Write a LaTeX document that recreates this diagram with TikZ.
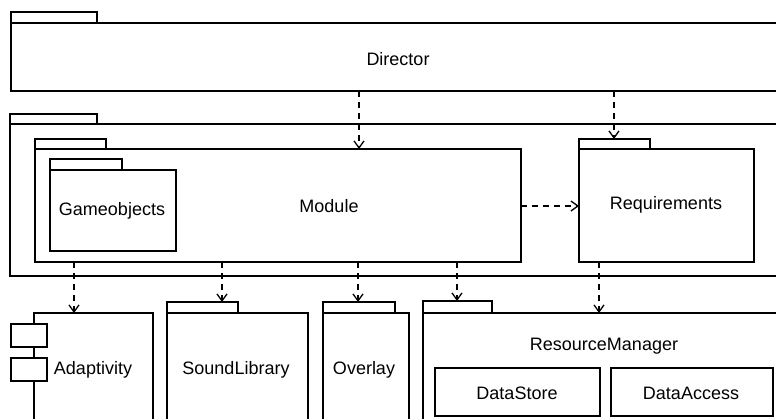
\documentclass[tikz,border=0pt]{standalone}
\usepackage{fontspec}
\setmainfont{Liberation Sans}
\usetikzlibrary{arrows.meta}

\begin{document}
\begin{tikzpicture}[x=1pt,y=-1pt,
  box/.style={draw, line width=1.3pt, inner sep=0pt, outer sep=0pt, anchor=north west, fill=white},
  lbl/.style={font=\fontsize{18}{22}\selectfont, inner sep=0pt},
  dep/.style={line width=1.3pt, dash pattern=on 6pt off 5pt,
              -{Straight Barb[length=7pt,width=10pt,line width=1.3pt]}},
]
\useasboundingbox (0,0) rectangle (776,418);
\clip (0,0) rectangle (776,418);

% Director package
\node[box, minimum width=86, minimum height=11] (dirtab) at (11,12) {};
\node[box, minimum width=779, minimum height=68] (dir) at (11,23) {};
\node[lbl] (dirl) at (398,59) {Director};

% enclosing package
\node[box, minimum width=87, minimum height=10] (outtab) at (10,114) {};
\node[box, minimum width=780, minimum height=152] (out) at (10,124) {};

% Module with nested Gameobjects
\node[box, minimum width=71, minimum height=10] (modtab) at (35,139) {};
\node[box, minimum width=486, minimum height=113] (mod) at (35,149) {};
\node[lbl] (modl) at (329,206) {Module};
\node[box, minimum width=72, minimum height=11] (gotab) at (50,159) {};
\node[box, minimum width=126, minimum height=81] (go) at (50,170) {};
\node[lbl] (gol) at (112,211) {Gameobjects};

% Requirements
\node[box, minimum width=71, minimum height=10] (reqtab) at (579,139) {};
\node[box, minimum width=175, minimum height=113] (req) at (579,149) {};
\node[lbl] (reql) at (666,205) {Requirements};

% Adaptivity component
\node[box, minimum width=119, minimum height=120] (adap) at (34,313) {};
\node[box, minimum width=36, minimum height=23] (adapc1) at (11,324) {};
\node[box, minimum width=36, minimum height=23] (adapc2) at (11,358) {};
\node[lbl] (adapl) at (93,370) {Adaptivity};

% SoundLibrary
\node[box, minimum width=71, minimum height=11] (sltab) at (167,302) {};
\node[box, minimum width=141, minimum height=120] (sl) at (167,313) {};
\node[lbl] (sll) at (236,370) {SoundLibrary};

% Overlay
\node[box, minimum width=72, minimum height=11] (ovtab) at (323,302) {};
\node[box, minimum width=86, minimum height=120] (ov) at (323,313) {};
\node[lbl] (ovl) at (364,370) {Overlay};

% ResourceManager with its two parts
\node[box, minimum width=69, minimum height=12] (rmtab) at (423,301) {};
\node[box, minimum width=370, minimum height=120] (rm) at (423,313) {};
\node[lbl] (rml) at (604,346) {ResourceManager};
\node[box, minimum width=165, minimum height=48] (ds) at (435,368) {};
\node[lbl] (dsl) at (517,393) {DataStore};
\node[box, minimum width=162, minimum height=48] (da) at (611,368) {};
\node[lbl] (dal) at (691,393) {DataAccess};

% dependency connectors
\coordinate (xa) at (359,0);
\coordinate (xb) at (614,0);
\coordinate (xc) at (74,0);
\coordinate (xd) at (222,0);
\coordinate (xe) at (358,0);
\coordinate (xf) at (457,0);
\coordinate (xg) at (599,0);
\coordinate (ya) at (0,206);

\draw[dep] (dir.south -| xa) -- (mod.north -| xa);
\draw[dep] (dir.south -| xb) -- (reqtab.north -| xb);
\draw[dep] (mod.east |- ya) -- (req.west |- ya);
\draw[dep] (mod.south -| xc) -- (adap.north -| xc);
\draw[dep] (mod.south -| xd) -- (sltab.north -| xd);
\draw[dep] (mod.south -| xe) -- (ovtab.north -| xe);
\draw[dep] (mod.south -| xf) -- (rmtab.north -| xf);
\draw[dep] (req.south -| xg) -- (rm.north -| xg);
\end{tikzpicture}
\end{document}
